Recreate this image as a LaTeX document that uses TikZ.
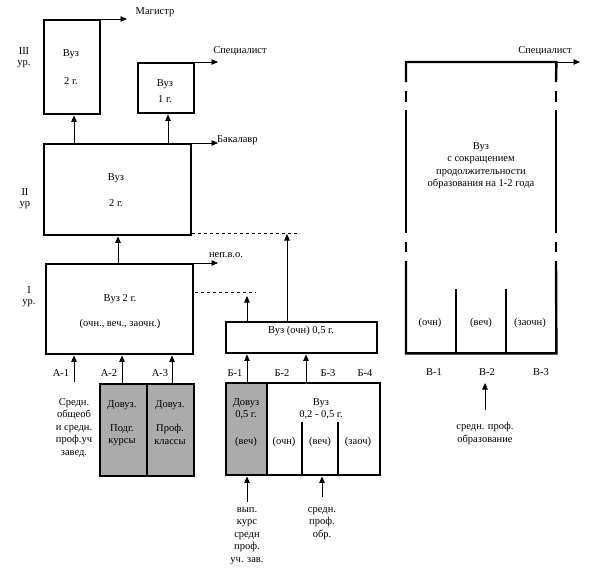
\documentclass[tikz,border=0pt]{standalone}
\usepackage{fontspec}
\setmainfont{Liberation Serif}
\usetikzlibrary{arrows.meta}
\begin{document}
\begin{tikzpicture}[x=1pt,y=-1pt,
  box/.style={draw, line width=2.4pt, inner sep=0pt, anchor=north west},
  shadebox/.style={box, fill=black!33},
  arr/.style={line width=0.9pt, -{Triangle[length=6.5pt,width=5.5pt]}},
  dline/.style={line width=0.6pt, dash pattern=on 3pt off 3pt},
  thick2/.style={line width=2.4pt},
  txt/.style={inner sep=0pt, font=\fontsize{10.5}{12}\selectfont},
  ml/.style={txt, align=center, font=\fontsize{10.5}{12.6}\selectfont}]
\useasboundingbox (0,0) rectangle (604,571);
% boxes
\node[box, minimum width=56pt, minimum height=94pt] (b3) at (43,19) {};
\node[box, minimum width=56pt, minimum height=50pt] (b31) at (137,62) {};
\node[box, minimum width=147pt, minimum height=91pt] (b2) at (43,143) {};
\node[box, minimum width=147pt, minimum height=90pt] (b1) at (45,263) {};
\node[shadebox, minimum width=47pt, minimum height=92pt] (a2) at (99,383) {};
\node[shadebox, minimum width=47pt, minimum height=92pt] (a3) at (146,383) {};
\node[box, minimum width=151pt, minimum height=31pt] (bv) at (225,321) {};
\node[box, minimum width=113pt, minimum height=92pt] (bb) at (266,382) {};
\node[shadebox, minimum width=41pt, minimum height=92pt] (bb1) at (225,382) {};
\node[inner sep=0pt, anchor=north west, minimum width=150pt, minimum height=291pt] (bc) at (406,62) {};
% dividers in Б box
\draw[thick2] (302,422) -- (302,474);
\draw[thick2] (338,422) -- (338,474);
% right box with broken sides
\draw[thick2] (406,82) -- (bc.north west) -- (bc.north east) -- (556,82);
\draw[thick2] (406,91) -- (406,102) (556,91) -- (556,102);
\draw[thick2] (406,110) -- (406,233) (556,110) -- (556,233);
\draw[thick2] (406,242) -- (406,252) (556,242) -- (556,252);
\draw[thick2] (406,261) -- (bc.south west) -- (bc.south east) -- (556,261);
\draw[thick2] (456,289) -- (456,353);
\draw[thick2] (506,289) -- (506,353);
% output arrows
\coordinate (omag) at (127,19);
\coordinate (ospec) at (218,62);
\coordinate (obak) at (218,143);
\coordinate (onep) at (218,263);
\coordinate (ospec2) at (580,62);
\draw[arr] (b3.north east) -- (omag);
\draw[arr] (b31.north east) -- (ospec);
\draw[arr] (b2.north east) -- (obak);
\draw[arr] (b1.north east) -- (onep);
\draw[arr] (bc.north east) -- (ospec2);
% dashed lines
\coordinate (d1s) at (192,233);
\coordinate (d1e) at (300,233);
\coordinate (d2s) at (195,292);
\coordinate (d2e) at (256,292);
\draw[dline] (d1s) -- (d1e);
\draw[dline] (d2s) -- (d2e);
% inter-box arrows
\draw[arr] (b2.north -| 74,0) -- (b3.south -| 74,0);
\draw[arr] (b2.north -| 168,0) -- (b31.south -| 168,0);
\draw[arr] (b1.north -| 118,0) -- (b2.south -| 118,0);
\draw[arr] (bv.north -| 247,0) -- (247,296);
\draw[arr] (bv.north -| 287,0) -- (287,234);
\draw[arr] (a2.north -| 122,0) -- (b1.south -| 122,0);
\draw[arr] (a3.north -| 172,0) -- (b1.south -| 172,0);
\coordinate (a1s) at (74,382);
\draw[arr] (a1s) -- (b1.south -| a1s);
\draw[arr] (bb1.north -| 247,0) -- (bv.south -| 247,0);
\draw[arr] (bb.north -| 306,0) -- (bv.south -| 306,0);
\coordinate (bs1) at (247,502);
\coordinate (bs2) at (322,497);
\draw[arr] (bs1) -- (bb1.south -| bs1);
\draw[arr] (bs2) -- (bb.south -| bs2);
\coordinate (cs) at (485,410);
\draw[arr] (cs) -- (485,383);
% texts
\node[txt] (tmag) at (155,12) {Магистр};
\node[txt] (t3a) at (24,51) {III};
\node[txt] (t3b) at (24,64) {ур.};
\node[txt] (t3v) at (71,54) {Вуз};
\node[txt] (t3g) at (71,81) {2 г.};
\node[txt] (tspec) at (240,51) {Специалист};
\node[txt] (t31v) at (165,84) {Вуз};
\node[txt] (t31g) at (165,99) {1 г.};
\node[txt, anchor=west] (tbak) at (217,140) {Бакалавр};
\node[txt] (t2v) at (116,178) {Вуз};
\node[txt] (t2g) at (116,203) {2 г.};
\node[txt] (t2a) at (25,192) {II};
\node[txt] (t2b) at (25,205) {ур};
\node[txt] (tnep) at (226,255) {неп.в.о.};
\node[txt] (t1a) at (29,290) {I};
\node[txt] (t1b) at (29,303) {ур.};
\node[txt] (t1v) at (120,299) {Вуз 2 г.};
\node[txt] (t1o) at (120,324) {(очн., веч., заочн.)};
\node[txt] (la1) at (61,373) {А-1};
\node[txt] (la2) at (109,373) {А-2};
\node[txt] (la3) at (160,373) {А-3};
\node[ml, anchor=north] (tleft) at (74,398) {Средн.\\общеоб\\и средн.\\проф.уч\\завед.};
\node[txt] (ta2a) at (122,405) {Довуз.};
\node[ml, anchor=north] (ta2b) at (122,424) {Подг.\\курсы};
\node[txt] (ta3a) at (170,405) {Довуз.};
\node[ml, anchor=north] (ta3b) at (170,424) {Проф.\\классы};
\node[txt] (tbv) at (301,331) {Вуз (очн) 0,5 г.};
\node[txt] (lb1) at (235,373) {Б-1};
\node[txt] (lb2) at (282,373) {Б-2};
\node[txt] (lb3) at (328,373) {Б-3};
\node[txt] (lb4) at (365,373) {Б-4};
\node[ml, anchor=north] (tb1a) at (246,398) {Довуз\\0,5 г.};
\node[txt] (tb1b) at (246,442) {(веч)};
\node[ml, anchor=north] (tbba) at (321,398) {Вуз\\0,2 - 0,5 г.};
\node[txt] (tbo) at (284,442) {(очн)};
\node[txt] (tbve) at (320,442) {(веч)};
\node[txt] (tbz) at (358,442) {(заоч)};
\node[ml, anchor=north] (tbs1) at (247,507) {вып.\\курс\\средн\\проф.\\уч. зав.};
\node[ml, anchor=north] (tbs2) at (322,507) {средн.\\проф.\\обр.};
\node[txt] (tspec2) at (545,51) {Специалист};
\node[ml, anchor=north] (tcv) at (481,142) {Вуз\\с сокращением\\продолжительности\\образования на 1-2 года};
\node[txt] (tco) at (430,323) {(очн)};
\node[txt] (tcve) at (481,323) {(веч)};
\node[txt] (tcz) at (530,323) {(заочн)};
\node[txt] (lc1) at (434,372) {В-1};
\node[txt] (lc2) at (487,372) {В-2};
\node[txt] (lc3) at (541,372) {В-3};
\node[ml, anchor=north] (tcs) at (485,422) {средн. проф.\\образование};
\end{tikzpicture}
\end{document}
